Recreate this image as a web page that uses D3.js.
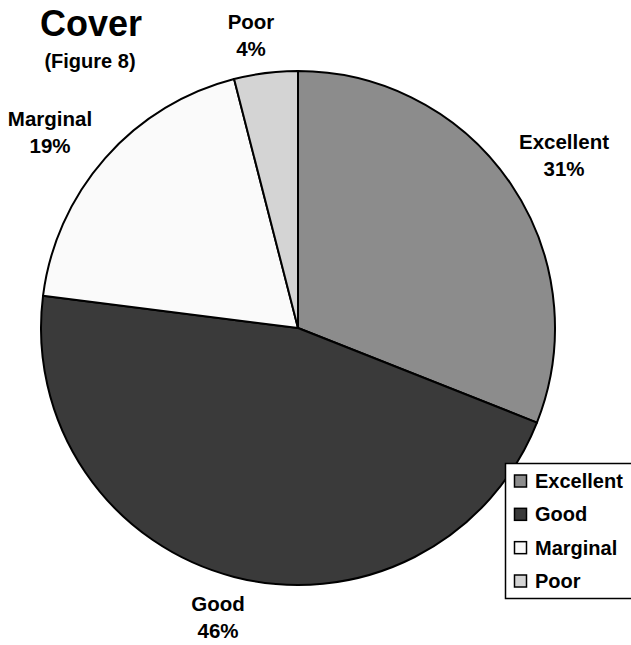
<!DOCTYPE html>
<html>
<head>
<meta charset="utf-8">
<script src="https://cdn.jsdelivr.net/npm/d3@7"></script>
<style>
  html, body { margin: 0; padding: 0; background: #fff; }
  svg { display: block; font-family: "Liberation Sans", Arial, sans-serif; font-weight: bold; }
</style>
</head>
<body>
<svg id="chart" width="631" height="645"></svg>
<script>
// Cover condition shares (percent)
const categories = ["Excellent", "Good", "Marginal", "Poor"];
const values = [31, 46, 19, 4];
const fills = ["#8c8c8c", "#3a3a3a", "#fafafa", "#d4d4d4"];
// Outside label anchor positions (centre x, first-line baseline y)
const labelPos = [[564, 149], [218, 611], [50, 126], [251, 29]];

const svg = d3.select("#chart");
const cx = 298, cy = 328, r = 257;

const color = d3.scaleOrdinal().domain(categories).range(fills);
const data = categories.map((c, i) => ({ name: c, value: values[i] }));

const pie = d3.pie().value(d => d.value).sort(null);
const arc = d3.arc().innerRadius(0).outerRadius(r);

const g = svg.append("g").attr("transform", `translate(${cx},${cy})`);
g.selectAll("path")
  .data(pie(data))
  .join("path")
  .attr("d", arc)
  .attr("fill", d => color(d.data.name))
  .attr("stroke", "#000")
  .attr("stroke-width", 2)
  .attr("stroke-linejoin", "round");

// Slice labels
data.forEach((d, i) => {
  const [x, y] = labelPos[i];
  const t = svg.append("text").attr("text-anchor", "middle").attr("font-size", 20.5).attr("fill", "#000");
  t.append("tspan").attr("x", x).attr("y", y).text(d.name);
  t.append("tspan").attr("x", x).attr("y", y + 27).text(d.value + "%");
});

// Title
svg.append("text").attr("x", 91).attr("y", 36).attr("text-anchor", "middle")
  .attr("font-size", 36).text("Cover");
svg.append("text").attr("x", 90).attr("y", 68).attr("text-anchor", "middle")
  .attr("font-size", 20).text("(Figure 8)");

// Legend
const legend = svg.append("g").attr("transform", "translate(505,463)");
legend.append("rect").attr("x", 0.5).attr("y", 0.5).attr("width", 140).attr("height", 135)
  .attr("fill", "#fff").attr("stroke", "#000").attr("stroke-width", 1.5);
const rowY = d3.scalePoint().domain(categories).range([18, 118]);
categories.forEach(c => {
  const y = rowY(c);
  legend.append("rect").attr("x", 9.5).attr("y", y - 6).attr("width", 12).attr("height", 12)
    .attr("fill", color(c)).attr("stroke", "#000").attr("stroke-width", 1.5);
  legend.append("text").attr("x", 30).attr("y", y + 7).attr("font-size", 20).text(c);
});
</script>
</body>
</html>
